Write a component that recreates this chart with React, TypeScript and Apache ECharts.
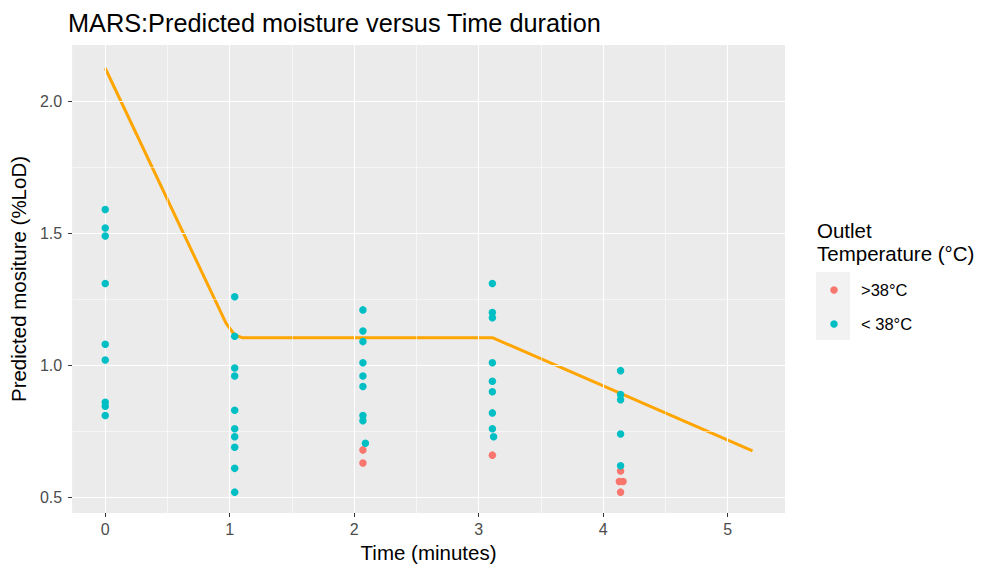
import React, { useEffect, useRef } from "react";
import * as echarts from "echarts";

// Observations below 38 °C outlet temperature
const coldTime = [
  0, 0, 0, 0, 0, 0, 0, 0, 0,
  1.04, 1.04, 1.04, 1.04, 1.04, 1.04, 1.04, 1.04, 1.04, 1.04,
  2.07, 2.07, 2.07, 2.07, 2.07, 2.07, 2.07, 2.07, 2.09,
  3.11, 3.11, 3.11, 3.11, 3.11, 3.11, 3.11, 3.11, 3.12,
  4.14, 4.14, 4.14, 4.14, 4.14,
];
const coldMoisture = [
  1.59, 1.52, 1.49, 1.31, 1.08, 1.02, 0.86, 0.845, 0.81,
  1.26, 1.11, 0.99, 0.96, 0.83, 0.76, 0.73, 0.69, 0.61, 0.52,
  1.21, 1.13, 1.09, 1.01, 0.96, 0.92, 0.81, 0.79, 0.705,
  1.31, 1.2, 1.18, 1.01, 0.94, 0.9, 0.82, 0.76, 0.73,
  0.98, 0.89, 0.87, 0.74, 0.62,
];

// Observations above 38 °C outlet temperature
const hotTime = [2.07, 2.07, 3.11, 4.14, 4.13, 4.16, 4.14];
const hotMoisture = [0.68, 0.63, 0.66, 0.6, 0.56, 0.56, 0.52];

// MARS fitted curve
const modelTime = [0, 0.97, 1.04, 1.1, 3.11, 5.2];
const modelMoisture = [2.125, 1.16, 1.115, 1.105, 1.105, 0.676];

// Axis breaks
const xBreaks = [0, 1, 2, 3, 4, 5];
const xMinorBreaks = [0.5, 1.5, 2.5, 3.5, 4.5];
const yBreaks = [0.5, 1.0, 1.5, 2.0];
const yMinorBreaks = [0.75, 1.25, 1.75];

const legendTitle = ["Outlet", "Temperature (°C)"];
const legendLabels = [">38°C", "< 38°C"];

const HOT = "#F8766D";
const COLD = "#00BFC4";
const LINE = "#FFA500";
const FONT = "'Liberation Sans', Arial, sans-serif";

const pairs = (xs: number[], ys: number[]) => xs.map((x, i) => [x, ys[i]]);

export default function App() {
  const ref = useRef<HTMLDivElement>(null);

  useEffect(() => {
    if (!ref.current) return;
    const chart = echarts.init(ref.current, undefined, { renderer: "svg" });

    const gridLines = [
      ...xBreaks.map((v) => ({ xAxis: v, lineStyle: { width: 1.1 } })),
      ...xMinorBreaks.map((v) => ({ xAxis: v, lineStyle: { width: 0.55 } })),
      ...yBreaks.map((v) => ({ yAxis: v, lineStyle: { width: 1.1 } })),
      ...yMinorBreaks.map((v) => ({ yAxis: v, lineStyle: { width: 0.55 } })),
    ];

    chart.setOption({
      animation: false,
      textStyle: { fontFamily: FONT },
      title: {
        text: "MARS:Predicted moisture versus Time duration",
        left: 68,
        top: 10,
        padding: 0,
        textStyle: { fontSize: 25.3, fontWeight: "normal", color: "#000", fontFamily: FONT },
      },
      grid: {
        left: 68,
        right: 197,
        top: 45,
        bottom: 55,
        show: true,
        backgroundColor: "#EBEBEB",
        borderWidth: 0,
      },
      xAxis: {
        type: "value",
        min: -0.266,
        max: 5.461,
        splitLine: { show: false },
        axisLine: { show: false, onZero: false },
        axisTick: {
          show: true,
          customValues: xBreaks,
          length: 4,
          lineStyle: { color: "#333333", width: 1 },
        },
        axisLabel: {
          customValues: xBreaks,
          margin: 8,
          color: "#4D4D4D",
          fontSize: 16,
          fontFamily: FONT,
          formatter: (v: number) => String(v),
        },
        name: "Time (minutes)",
        nameLocation: "middle",
        nameGap: 28,
        nameTextStyle: { fontSize: 20.5, color: "#000", fontFamily: FONT },
      },
      yAxis: {
        type: "value",
        min: 0.441,
        max: 2.213,
        splitLine: { show: false },
        axisLine: { show: false, onZero: false },
        axisTick: {
          show: true,
          customValues: yBreaks,
          length: 4,
          lineStyle: { color: "#333333", width: 1 },
        },
        axisLabel: {
          customValues: yBreaks,
          margin: 10,
          color: "#4D4D4D",
          fontSize: 16,
          fontFamily: FONT,
          formatter: (v: number) => v.toFixed(1),
        },
        name: "Predicted mositure (%LoD)",
        nameLocation: "middle",
        nameGap: 36,
        nameTextStyle: { fontSize: 20.5, color: "#000", fontFamily: FONT },
      },
      series: [
        {
          type: "line",
          data: [],
          z: 1,
          silent: true,
          markLine: {
            silent: true,
            symbol: ["none", "none"],
            label: { show: false },
            emphasis: { disabled: true },
            lineStyle: { color: "#FFFFFF", type: "solid" },
            data: gridLines,
          },
        },
        {
          type: "line",
          data: pairs(modelTime, modelMoisture),
          z: 3,
          showSymbol: false,
          symbol: "none",
          lineStyle: { color: LINE, width: 3, join: "round" },
          silent: true,
        },
        {
          name: legendLabels[0],
          type: "scatter",
          data: pairs(hotTime, hotMoisture),
          z: 4,
          symbolSize: 7.5,
          itemStyle: { color: HOT, opacity: 1 },
          silent: true,
        },
        {
          name: legendLabels[1],
          type: "scatter",
          data: pairs(coldTime, coldMoisture),
          z: 5,
          symbolSize: 7.5,
          itemStyle: { color: COLD, opacity: 1 },
          silent: true,
        },
      ],
      graphic: [
        {
          type: "text",
          left: 817,
          top: 219,
          style: {
            text: legendTitle.join("\n"),
            fontSize: 20.5,
            lineHeight: 23,
            fill: "#000",
            fontFamily: FONT,
          },
        },
        {
          type: "rect",
          shape: { x: 816, y: 272, width: 34, height: 68 },
          style: { fill: "#F2F2F2" },
        },
        {
          type: "circle",
          shape: { cx: 834, cy: 290, r: 3.75 },
          style: { fill: HOT },
        },
        {
          type: "circle",
          shape: { cx: 834, cy: 324, r: 3.75 },
          style: { fill: COLD },
        },
        {
          type: "text",
          x: 861,
          y: 290,
          style: {
            text: legendLabels[0],
            fontSize: 16.5,
            fill: "#000",
            fontFamily: FONT,
            verticalAlign: "middle",
          },
        },
        {
          type: "text",
          x: 861,
          y: 324,
          style: {
            text: legendLabels[1],
            fontSize: 16.5,
            fill: "#000",
            fontFamily: FONT,
            verticalAlign: "middle",
          },
        },
      ],
    });

    return () => chart.dispose();
  }, []);

  return (
    <div
      ref={ref}
      style={{ position: "absolute", left: 0, top: 0, width: 982, height: 568 }}
    />
  );
}
